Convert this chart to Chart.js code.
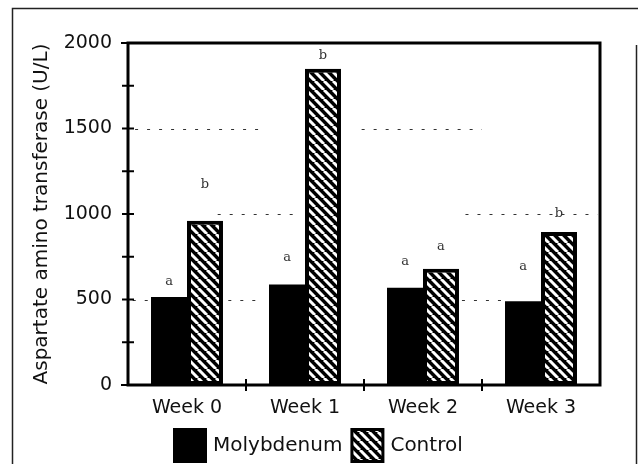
<!DOCTYPE html>
<html>
<head>
<meta charset="utf-8">
<title>Aspartate amino transferase</title>
<script src="https://cdn.jsdelivr.net/npm/chart.js@4"></script>
<style>
  html, body { margin: 0; padding: 0; background: #fff; }
</style>
</head>
<body>
<canvas id="astChart" width="638" height="464"></canvas>
<script>
const weeks = ['Week 0', 'Week 1', 'Week 2', 'Week 3'];
const molybdenum = [515, 588, 568, 490];
const control = [960, 1850, 680, 895];
const molyLetters = ['a', 'a', 'a', 'a'];
const controlLetters = ['b', 'b', 'a', 'b'];
const molyLetterAt = [604, 745, 721, 692];
const controlLetterAt = [1173, 1924, 809, 1004];
const yLabelled = [0, 500, 1000, 1500, 2000];

// dotted guide runs: [value, from category, to category]
const gridRuns = [
    [1500, -0.44, 0.64], [1500, 1.48, 2.5],
    [1000, 0.26, 0.92], [1000, 2.36, 3.48],
    [500, -0.46, -0.32], [500, 0.35, 0.64], [500, 2.33, 2.68]
];

const ink = '#000';
const textInk = '#111';
const fontFamily = '"DejaVu Sans", Arial, sans-serif';

function makeHatch() {
    const size = 9;
    const c = document.createElement('canvas');
    c.width = size;
    c.height = size;
    const g = c.getContext('2d');
    g.fillStyle = ink;
    g.fillRect(0, 0, size, size);
    g.strokeStyle = '#fff';
    g.lineWidth = 3;
    g.beginPath();
    for (let k = -1; k <= 1; k++) {
        g.moveTo(k * size, 0);
        g.lineTo(k * size + size, size);
    }
    g.stroke();
    return g.createPattern(c, 'repeat');
}

const hatch = makeHatch();

const decor = {
    id: 'decor',
    beforeDatasetsDraw(chart) {
        const { ctx, scales: { x, y } } = chart;
        ctx.save();
        ctx.strokeStyle = '#333';
        ctx.lineWidth = 1.2;
        ctx.setLineDash([3, 9]);
        gridRuns.forEach(([v, a, b]) => {
            const py = Math.round(y.getPixelForValue(v)) + 0.5;
            ctx.beginPath();
            ctx.moveTo(x.getPixelForValue(a), py);
            ctx.lineTo(x.getPixelForValue(b), py);
            ctx.stroke();
        });
        ctx.restore();
    },
    afterDatasetsDraw(chart) {
        const { ctx, chartArea: area, scales: { x, y } } = chart;
        ctx.save();

        // plot box
        ctx.strokeStyle = ink;
        ctx.lineWidth = 3;
        ctx.strokeRect(area.left, area.top, area.right - area.left, area.bottom - area.top);

        // y ticks crossing the axis
        ctx.lineWidth = 2;
        for (let v = 250; v < 2000; v += 250) {
            const py = y.getPixelForValue(v);
            ctx.beginPath();
            ctx.moveTo(area.left - 6, py);
            ctx.lineTo(area.left + 6, py);
            ctx.stroke();
        }
        [0, 2000].forEach(v => {
            const py = y.getPixelForValue(v);
            ctx.beginPath();
            ctx.moveTo(area.left - 7, py);
            ctx.lineTo(area.left, py);
            ctx.stroke();
        });

        // x ticks between weeks
        for (let i = 0; i < weeks.length - 1; i++) {
            const px = x.getPixelForValue(i + 0.5);
            ctx.beginPath();
            ctx.moveTo(px, area.bottom - 6);
            ctx.lineTo(px, area.bottom + 6);
            ctx.stroke();
        }

        // significance letters
        ctx.fillStyle = '#333';
        ctx.font = '13px "DejaVu Serif", "Liberation Serif", serif';
        ctx.textAlign = 'center';
        ctx.textBaseline = 'middle';
        const letterSets = [[molyLetters, molyLetterAt], [controlLetters, controlLetterAt]];
        letterSets.forEach(([letters, at], di) => {
            chart.getDatasetMeta(di).data.forEach((bar, i) => {
                ctx.fillText(letters[i], bar.x, y.getPixelForValue(at[i]));
            });
        });

        // legend
        ctx.font = '20px ' + fontFamily;
        ctx.textAlign = 'left';
        let lx = 173;
        const boxTop = 428;
        const boxSize = 34;
        chart.data.datasets.forEach(ds => {
            ctx.fillStyle = ink;
            ctx.fillRect(lx, boxTop, boxSize, boxSize + 1);
            if (ds.backgroundColor !== ink) {
                ctx.fillStyle = ds.backgroundColor;
                ctx.fillRect(lx + 3, boxTop + 3, boxSize - 6, boxSize - 5);
            }
            lx += boxSize + 6;
            ctx.fillStyle = textInk;
            ctx.fillText(ds.label, lx, boxTop + boxSize / 2 + 1);
            lx += ctx.measureText(ds.label).width + 8;
        });

        // outer frame
        ctx.lineWidth = 1.5;
        ctx.strokeStyle = '#222';
        ctx.beginPath();
        ctx.moveTo(12.5, 464);
        ctx.lineTo(12.5, 8.5);
        ctx.lineTo(638, 8.5);
        ctx.moveTo(636.5, 45);
        ctx.lineTo(636.5, 464);
        ctx.stroke();

        ctx.restore();
    }
};

new Chart(document.getElementById('astChart').getContext('2d'), {
    type: 'bar',
    data: {
        labels: weeks,
        datasets: [
            {
                label: 'Molybdenum',
                data: molybdenum,
                backgroundColor: ink,
                borderWidth: 0
            },
            {
                label: 'Control',
                data: control,
                backgroundColor: hatch,
                borderColor: ink,
                borderWidth: 4,
                borderSkipped: false
            }
        ]
    },
    options: {
        responsive: false,
        animation: false,
        devicePixelRatio: 1,
        layout: { padding: { top: 43, right: 38, bottom: 0, left: 0 } },
        datasets: { bar: { categoryPercentage: 0.61, barPercentage: 1.0 } },
        plugins: {
            legend: { display: false },
            tooltip: { enabled: false }
        },
        scales: {
            x: {
                grid: { display: false, drawTicks: false },
                border: { display: false },
                ticks: { color: textInk, padding: 12, font: { family: fontFamily, size: 19 } },
                afterFit(scale) { scale.height = 79; }
            },
            y: {
                min: 0,
                max: 2000,
                grid: { display: false, drawTicks: false },
                border: { display: false },
                ticks: {
                    stepSize: 250,
                    padding: 16,
                    color: textInk,
                    font: { family: fontFamily, size: 19 },
                    callback: v => (yLabelled.includes(v) ? String(v) : '')
                },
                title: {
                    display: true,
                    text: 'Aspartate amino transferase (U/L)',
                    color: textInk,
                    font: { family: fontFamily, size: 20 },
                    padding: { top: 30, bottom: 0 }
                },
                afterFit(scale) { scale.width = 128; }
            }
        }
    },
    plugins: [decor]
});
</script>
</body>
</html>
